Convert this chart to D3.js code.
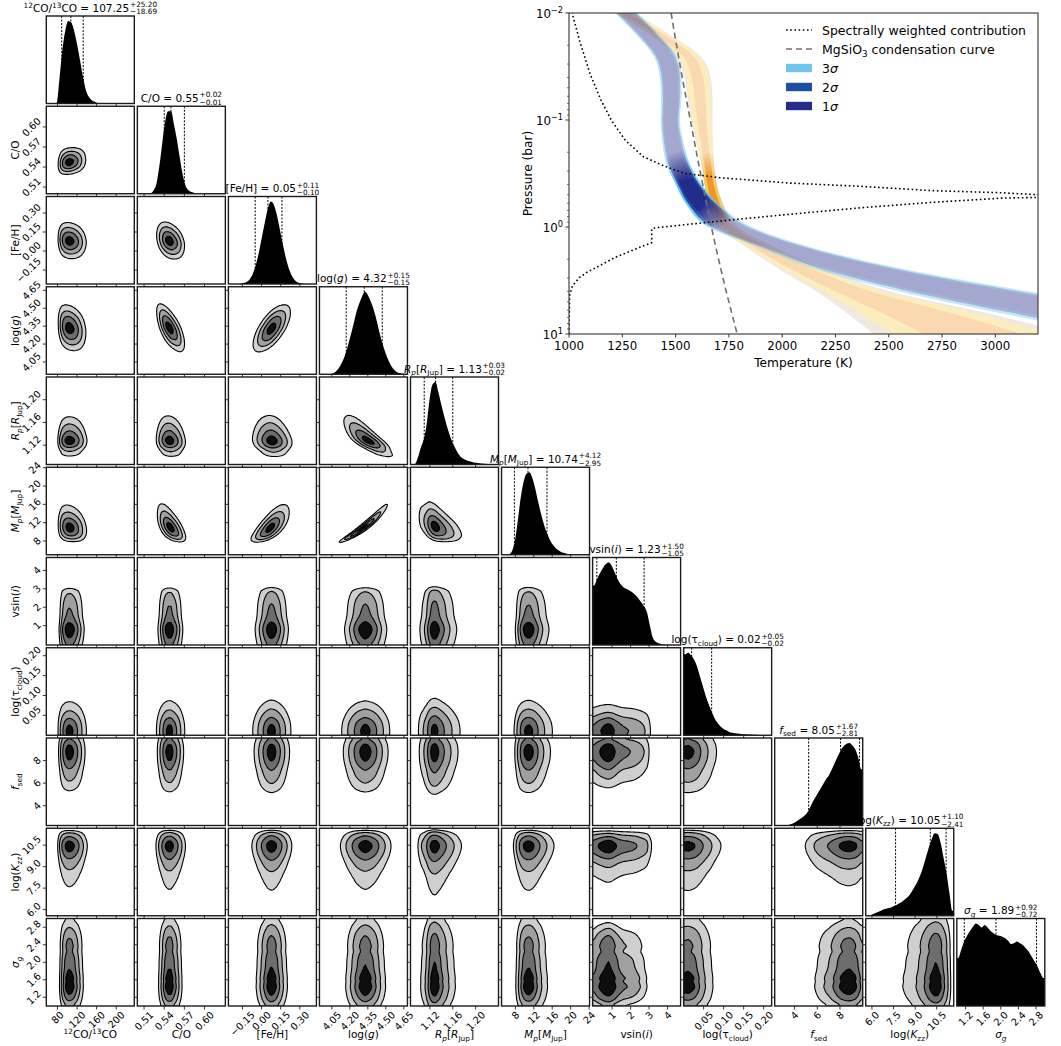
<!DOCTYPE html>
<html>
<head>
<meta charset="utf-8">
<script src="https://cdn.jsdelivr.net/npm/d3@7"></script>
<style>
  body { margin: 0; background: #fff; }
  svg { font-family: "DejaVu Sans", sans-serif; }
</style>
</head>
<body>
<svg id="fig" width="1061" height="1046"></svg>
<script>
// ---------- corner plot data ----------
const paramLabels = [
  [{ t: '12', u: 1 }, { t: 'CO/' }, { t: '13', u: 1 }, { t: 'CO' }],
  [{ t: 'C/O' }],
  [{ t: '[Fe/H]' }],
  [{ t: 'log(' }, { t: 'g', i: 1 }, { t: ')' }],
  [{ t: 'R', i: 1 }, { t: 'p', i: 1, s: 1 }, { t: '[' }, { t: 'R', i: 1 }, { t: 'Jup', s: 1 }, { t: ']' }],
  [{ t: 'M', i: 1 }, { t: 'p', i: 1, s: 1 }, { t: '[' }, { t: 'M', i: 1 }, { t: 'Jup', s: 1 }, { t: ']' }],
  [{ t: 'vsin(' }, { t: 'i', i: 1 }, { t: ')' }],
  [{ t: 'log(τ' }, { t: 'cloud', s: 1 }, { t: ')' }],
  [{ t: 'f', i: 1 }, { t: 'sed', s: 1 }],
  [{ t: 'log(' }, { t: 'K', i: 1 }, { t: 'zz', s: 1 }, { t: ')' }],
  [{ t: 'σ', i: 1 }, { t: 'g', i: 1, s: 1 }],
];

const paramDomains = [
  [57, 237], [0.500, 0.631], [-0.26, 0.43], [3.947, 4.68], [1.086, 1.240],
  [5.0, 24.1], [-0.05, 4.7], [0.0, 0.22], [2.25, 10.0], [5.57, 11.68], [1.0, 3.0],
];

const paramTicks = [
  [80, 120, 160, 200], [0.51, 0.54, 0.57, 0.60], [-0.15, 0.0, 0.15, 0.30],
  [4.05, 4.20, 4.35, 4.50, 4.65], [1.12, 1.16, 1.20], [8, 12, 16, 20, 24],
  [1, 2, 3, 4], [0.05, 0.10, 0.15, 0.20], [4, 6, 8], [6.0, 7.5, 9.0, 10.5],
  [1.2, 1.6, 2.0, 2.4, 2.8],
];
const tickLabels = [
  ['80', '120', '160', '200'], ['0.51', '0.54', '0.57', '0.60'], ['−0.15', '0.00', '0.15', '0.30'],
  ['4.05', '4.20', '4.35', '4.50', '4.65'], ['1.12', '1.16', '1.20'], ['8', '12', '16', '20', '24'],
  ['1', '2', '3', '4'], ['0.05', '0.10', '0.15', '0.20'], ['4', '6', '8'], ['6.0', '7.5', '9.0', '10.5'],
  ['1.2', '1.6', '2.0', '2.4', '2.8'],
];

const medians = [107.25, 0.55, 0.05, 4.32, 1.13, 10.74, 1.23, 0.02, 8.05, 10.05, 1.89];
const errPlus = [25.20, 0.02, 0.11, 0.15, 0.03, 4.12, 1.50, 0.05, 1.67, 1.10, 0.92];
const errMinus = [18.69, 0.01, 0.10, 0.15, 0.02, 2.95, 1.05, 0.02, 2.81, 2.41, 0.72];

// marginal histograms, 30 bins across each domain (relative heights)
const histCO = [0,0,0,0.5,30,65,88,99,97,87,71,52,32,16,8,4,2,0.5,0,0,0,0,0,0,0,0,0,0,0,0];
const histCtoO = [0,0,0,0,0.5,4,12,33,60,86,98,98,82,64,42,22,9,4,2,0.8,0.3,0,0,0,0,0,0,0,0,0];
const histFeH = [0,0,0,0,0.5,1.5,3,7,14,25,40,58,76,92,100,96,84,67,49,33,20,11,5,2,1,0.3,0,0,0,0];
const histLogg = [0,0,0,0.3,1,3,7,13,21,32,45,59,74,85,94,100,96,88,78,65,50,37,26,17,10,5,2.5,1.2,0.5,0.2];
const histRp = [0,0.5,8,20,30,48,78,96,99,87,72,58,45,34,25,18,12,8,6,4.5,3.5,2.5,2,1.5,1.1,0.8,0.5,0.3,0.1,0];
const histMp = [0,0,0.5,4,16,40,68,88,98,100,93,80,64,49,36,26,18,12,8,5,3,2,1,0.5,0.3,0,0,0,0,0];
const histVsini = [72,80,87,93,98,100,96,88,80,74,70,68,66,64,61,57,52,47,40,24,9,4,2,1,0.5,0.2,0,0,0,0];
const histTau = [98,100,97,92,84,72,60,48,38,29,21,15,11,8,6,4,3,2.5,2,1.5,1.2,1,0.8,0.6,0.5,0.4,0.3,0.2,0.1,0];
const histFsed = [0,0,0,0,0.5,1.5,3,5,7.5,10,13,18,25,32,38,44,50,56,61,68,76,84,91,96,99,100,97,92,82,68];
const histKzz = [0,0.5,2,3.5,5,6.5,8,9,10,11.5,13,15,17,20,23,28,34,40,48,58,70,82,92,99,98,88,70,52,28,6];
const histSigma = [58,68,78,85,91,96,100,98,95,98,95,91,88,86,85,84,82,79,75,76,78,76,74,70,66,60,54,48,40,34];
const hists = [histCO, histCtoO, histFeH, histLogg, histRp, histMp, histVsini, histTau, histFsed, histKzz, histSigma];

// correlation of each pair read from the tilt of the blobs: [row, col, rho]
const pairCorr = [
  [1, 0, 0.15], [2, 0, -0.1], [3, 0, -0.2], [5, 0, -0.15],
  [2, 1, -0.3], [3, 1, -0.65], [4, 1, -0.1], [5, 1, -0.6],
  [3, 2, 0.65], [4, 2, -0.15], [5, 2, 0.7],
  [4, 3, -0.8], [5, 3, 0.97],
  [5, 4, -0.45],
];

// ---------- P-T inset data ----------
const lpLevels = [-2, -1.8, -1.6, -1.4, -1.2, -1, -0.8, -0.6, -0.4, -0.2, 0, 0.2, 0.4, 0.6, 0.8, 1];
const blueMed = [1268,1368,1450,1477,1480,1475,1487,1510,1560,1632,1755,2030,2377,2850,3392,3949];
const blue3 = [54,54,54,51,48,45,50,55,60,78,103,125,211,304,382,426];
const blue2 = [45,45,45,43,40,38,42,46,50,66,87,105,177,255,321,358];
const blue1 = [36,36,36,34,32,30,33,36,40,51,68,83,139,201,252,281];
const orangeMed = [1260,1425,1557,1602,1615,1623,1635,1650,1664,1693,1745,1907,2098,2331,2624,2895];
const orange3 = [46,46,58,62,58,50,40,30,29,33,45,67,108,171,324,465];
const orange2 = [39,39,49,53,49,42,34,25,24,28,38,56,88,138,262,375];
const orange1 = [20,20,25,27,25,22,18,16,15,18,24,34,52,82,160,230];

const condLp = [-2, -1.5, -1, -0.5, 0, 0.5, 1];
const condT = [1479, 1522, 1569, 1617, 1668, 1725, 1789];

const contribT = [1010,1016,1050,1099,1149,1198,1264,1347,1446,1545,1710,2040,2370,2700,3030,3300,
                  3300,3030,2700,2370,2040,1710,1413,1388,1388,1347,1215,1083,1050,1016,1003,1000,1000];
const contribLp = [-2.05,-1.99,-1.74,-1.43,-1.19,-1.0,-0.81,-0.66,-0.57,-0.50,-0.46,-0.41,-0.38,-0.34,-0.32,-0.29,
                   -0.28,-0.27,-0.23,-0.18,-0.12,-0.056,0.006,0.016,0.146,0.177,0.286,0.425,0.47,0.55,0.64,0.95,1.05];

const tempTicks = [1000, 1250, 1500, 1750, 2000, 2250, 2500, 2750, 3000];
const pressTicks = [0.01, 0.1, 1, 10];
const pressTickExp = ['−2', '−1', '0', '1'];

const blueCols = ['#6ec6ea', '#1f4fa5', '#232c8a'];
const orangeCols = ['#d8c3ad', '#f6d04a', '#f1952a'];
const legendSigma = ['3', '2', '1'];

// ---------- helpers ----------
const svg = d3.select('#fig');
const defs = svg.append('defs');

function rich(txt, segs, fs) {
  let cur = 0;
  segs.forEach(s => {
    const off = s.u ? -0.38 * fs : s.s ? 0.24 * fs : 0;
    const ts = txt.append('tspan').text(s.t).attr('font-size', (s.u || s.s) ? 0.7 * fs : fs);
    if (s.i) ts.attr('font-style', 'italic');
    if (off !== cur) { ts.attr('dy', off - cur); cur = off; }
  });
}

function invNorm(p) {
  const a = [-3.969683028665376e+01, 2.209460984245205e+02, -2.759285104469687e+02, 1.383577518672690e+02, -3.066479806614716e+01, 2.506628277459239e+00];
  const b = [-5.447609879822406e+01, 1.615858368580409e+02, -1.556989798598866e+02, 6.680131188771972e+01, -1.328068155288572e+01];
  const c = [-7.784894002430293e-03, -3.223964580411365e-01, -2.400758277161838e+00, -2.549732539343734e+00, 4.374664141464968e+00, 2.938163982698783e+00];
  const d = [7.784695709041462e-03, 3.224671290700398e-01, 2.445134137142996e+00, 3.754408661907416e+00];
  const pl = 0.02425;
  if (p < pl) {
    const q = Math.sqrt(-2 * Math.log(p));
    return (((((c[0] * q + c[1]) * q + c[2]) * q + c[3]) * q + c[4]) * q + c[5]) / ((((d[0] * q + d[1]) * q + d[2]) * q + d[3]) * q + 1);
  }
  if (p > 1 - pl) {
    const q = Math.sqrt(-2 * Math.log(1 - p));
    return -(((((c[0] * q + c[1]) * q + c[2]) * q + c[3]) * q + c[4]) * q + c[5]) / ((((d[0] * q + d[1]) * q + d[2]) * q + d[3]) * q + 1);
  }
  const q = p - 0.5, r = q * q;
  return (((((a[0] * r + a[1]) * r + a[2]) * r + a[3]) * r + a[4]) * r + a[5]) * q / (((((b[0] * r + b[1]) * r + b[2]) * r + b[3]) * r + b[4]) * r + 1);
}

// ---------- corner layout ----------
const NP = 11;
const X0 = 46.3, DXc = 91.05, PW = 88;
const Y0 = 16, DYc = 90.25, PH = 87.5;
const colX = j => X0 + j * DXc;
const rowY = i => Y0 + i * DYc;
const FS = 10.5, TFS = 9.8;
const xS = paramDomains.map((d, j) => d3.scaleLinear().domain(d).range([colX(j), colX(j) + PW]));
const yS = paramDomains.map((d, i) => d3.scaleLinear().domain(d).range([rowY(i) + PH, rowY(i)]));

// marginal pdf / normal scores on the contour grid
const NG = 64;
const gridInfo = hists.map((h, p) => {
  const [a, b] = paramDomains[p];
  const nb = h.length;
  const pdf = x => {
    const t = (x - a) / (b - a) * nb - 0.5;
    if (t <= 0) return h[0];
    if (t >= nb - 1) return h[nb - 1];
    const k = Math.floor(t), f = t - k;
    return h[k] * (1 - f) + h[k + 1] * f;
  };
  const SUB = 8, M = NG * SUB;
  const cum = [0];
  let s = 0;
  for (let m = 0; m < M; m++) { s += pdf(a + (m + 0.5) / M * (b - a)); cum.push(s); }
  const f = [], z = [];
  for (let g = 0; g < NG; g++) {
    f.push(pdf(a + (g + 0.5) / NG * (b - a)));
    let F = cum[g * SUB + SUB / 2] / s;
    F = Math.min(1 - 1e-6, Math.max(1e-6, F));
    z.push(invNorm(F));
  }
  return { f, z };
});

const corrOf = (i, j) => {
  const e = pairCorr.find(d => d[0] === i && d[1] === j);
  return e ? e[2] : 0;
};

const massLevels = [0.865, 0.675, 0.393, 0.118];
const fillCols = ['#cfcfcf', '#a0a0a0', '#6d6d6d', '#0e0e0e'];

const panelLayer = svg.append('g');
const titleLayer = svg.append('g');   // titles sit on top of neighbouring panels

function rotLabel(g, txt, cx, cy, mode, pad) {
  const t = g.append('text')
    .attr('font-size', TFS)
    .attr('text-anchor', 'middle')
    .attr('dominant-baseline', 'central')
    .text(txt);
  const L = t.node().getComputedTextLength();
  const half = (L + TFS * 0.75) * 0.7071 / 2;
  const x = mode === 'bottom' ? cx : cx - pad - half;
  const y = mode === 'bottom' ? cy + pad + half : cy;
  t.attr('transform', `translate(${x},${y}) rotate(-45)`);
}

function drawTicks(g, i, j, diag) {
  const bottom = rowY(i) + PH, left = colX(j);
  paramTicks[j].forEach(v => {
    const x = xS[j](v);
    g.append('line').attr('x1', x).attr('x2', x).attr('y1', bottom).attr('y2', bottom + 3.5)
      .attr('stroke', '#222').attr('stroke-width', 0.9);
  });
  if (!diag) {
    paramTicks[i].forEach(v => {
      const y = yS[i](v);
      g.append('line').attr('x1', left).attr('x2', left - 3.5).attr('y1', y).attr('y2', y)
        .attr('stroke', '#222').attr('stroke-width', 0.9);
    });
  }
  if (i === NP - 1) {
    paramTicks[j].forEach((v, k) => rotLabel(g, tickLabels[j][k], xS[j](v), bottom, 'bottom', 4.5));
    const lab = g.append('text').attr('x', colX(j) + PW / 2).attr('y', 1038)
      .attr('text-anchor', 'middle').attr('font-size', FS);
    rich(lab, paramLabels[j], FS);
  }
  if (j === 0 && i > 0) {
    paramTicks[i].forEach((v, k) => rotLabel(g, tickLabels[i][k], left, yS[i](v), 'left', 4.5));
    const cy = rowY(i) + PH / 2;
    const lab = g.append('text').attr('transform', `translate(19,${cy}) rotate(-90)`)
      .attr('text-anchor', 'middle').attr('font-size', FS);
    rich(lab, paramLabels[i], FS);
  }
}

// ---------- diagonal: histograms + titles ----------
for (let k = 0; k < NP; k++) {
  const x0 = colX(k), y0 = rowY(k);
  const [a, b] = paramDomains[k];
  const h = hists[k];
  const nb = h.length;
  const g = panelLayer.append('g');
  g.append('rect').attr('x', x0).attr('y', y0).attr('width', PW).attr('height', PH).attr('fill', '#fff');

  const yh = d3.scaleLinear().domain([0, d3.max(h) * 1.06]).range([y0 + PH, y0]);
  const pts = [[a, h[0]]].concat(h.map((v, m) => [a + (m + 0.5) / nb * (b - a), v])).concat([[b, h[nb - 1]]]);
  g.append('path')
    .attr('d', d3.area().x(d => xS[k](d[0])).y0(y0 + PH).y1(d => yh(d[1])).curve(d3.curveMonotoneX)(pts))
    .attr('fill', '#000');

  [medians[k] - errMinus[k], medians[k], medians[k] + errPlus[k]].forEach(q => {
    const x = xS[k](q);
    if (x < x0 || x > x0 + PW) return;
    g.append('line').attr('x1', x).attr('x2', x).attr('y1', y0).attr('y2', y0 + PH)
      .attr('stroke', '#000').attr('stroke-width', 1).attr('stroke-dasharray', '2,1.5');
  });
  g.append('rect').attr('x', x0).attr('y', y0).attr('width', PW).attr('height', PH)
    .attr('fill', 'none').attr('stroke', '#1c1c1c').attr('stroke-width', 1.4);
  drawTicks(g, k, k, true);

  // title
  const tg = titleLayer.append('g');
  const main = tg.append('text').attr('font-size', FS).attr('x', 0).attr('y', 0);
  rich(main, paramLabels[k].concat([{ t: ' = ' + medians[k].toFixed(2) }]), FS);
  const w = main.node().getComputedTextLength();
  const sup = tg.append('text').attr('font-size', 7.3).attr('x', w + 0.8).attr('y', -4.4).text('+' + errPlus[k].toFixed(2));
  const sub = tg.append('text').attr('font-size', 7.3).attr('x', w + 0.8).attr('y', 2.8).text('−' + errMinus[k].toFixed(2));
  const tw = w + 0.8 + Math.max(sup.node().getComputedTextLength(), sub.node().getComputedTextLength());
  tg.attr('transform', `translate(${x0 + PW / 2 - tw / 2},${y0 - 4.5})`);
}

// ---------- off-diagonal: 2D contours ----------
for (let i = 1; i < NP; i++) {
  for (let j = 0; j < i; j++) {
    const x0 = colX(j), y0 = rowY(i);
    const g = panelLayer.append('g');
    g.append('rect').attr('x', x0).attr('y', y0).attr('width', PW).attr('height', PH).attr('fill', '#fff');
    const cid = `clip-${i}-${j}`;
    defs.append('clipPath').attr('id', cid).append('rect')
      .attr('x', x0).attr('y', y0).attr('width', PW).attr('height', PH);

    const ax = gridInfo[j], ay = gridInfo[i];
    const rho = corrOf(i, j);
    const r2 = rho * rho;
    const values = new Array(NG * NG);
    for (let gy = 0; gy < NG; gy++) {
      const yi = NG - 1 - gy;
      for (let gx = 0; gx < NG; gx++) {
        let v = ax.f[gx] * ay.f[yi];
        if (rho !== 0) {
          const zx = ax.z[gx], zy = ay.z[yi];
          v *= Math.exp(-(r2 * (zx * zx + zy * zy) - 2 * rho * zx * zy) / (2 * (1 - r2))) / Math.sqrt(1 - r2);
        }
        values[gx + gy * NG] = v;
      }
    }
    const sorted = values.slice().sort((p, q) => q - p);
    const total = d3.sum(sorted);
    const thr = massLevels.map(m => {
      let c = 0;
      for (let n = 0; n < sorted.length; n++) {
        c += sorted[n];
        if (c / total >= m) return sorted[n];
      }
      return sorted[sorted.length - 1];
    });
    const cont = d3.contours().size([NG, NG]).thresholds(thr)(values);
    const proj = d3.geoTransform({
      point: function (x, y) { this.stream.point(x0 + x / NG * PW, y0 + y / NG * PH); },
    });
    const path = d3.geoPath(proj);
    const cg = g.append('g').attr('clip-path', `url(#${cid})`);
    cont.forEach((c, n) => {
      cg.append('path').attr('d', path(c)).attr('fill', fillCols[n])
        .attr('stroke', '#000').attr('stroke-width', 1.1).attr('stroke-linejoin', 'round');
    });
    g.append('rect').attr('x', x0).attr('y', y0).attr('width', PW).attr('height', PH)
      .attr('fill', 'none').attr('stroke', '#1c1c1c').attr('stroke-width', 1.4);
    drawTicks(g, i, j, false);
  }
}

// ---------- P-T inset ----------
const IL = 569, IR = 1038, IT = 13, IB = 334;
const xT = d3.scaleLinear().domain([1000, 3200]).range([IL, IR]);
const yP = d3.scaleLog().domain([0.01, 10]).range([IT, IB]);
const inset = svg.append('g');

defs.append('clipPath').attr('id', 'clip-inset').append('rect')
  .attr('x', IL).attr('y', IT).attr('width', IR - IL).attr('height', IB - IT);

function addFade(id, cx, cy, r, outer) {
  const rg = defs.append('radialGradient').attr('id', id + '-grad')
    .attr('gradientUnits', 'userSpaceOnUse').attr('cx', cx).attr('cy', cy).attr('r', r);
  rg.append('stop').attr('offset', 0).attr('stop-color', '#fff');
  rg.append('stop').attr('offset', 0.35).attr('stop-color', '#fff');
  rg.append('stop').attr('offset', 1).attr('stop-color', outer);
  defs.append('mask').attr('id', id).attr('maskUnits', 'userSpaceOnUse')
    .attr('x', IL).attr('y', IT).attr('width', IR - IL).attr('height', IB - IT)
    .append('rect').attr('x', IL).attr('y', IT).attr('width', IR - IL).attr('height', IB - IT)
    .attr('fill', `url(#${id}-grad)`);
}
addFade('fade-orange', xT(1665), yP(Math.pow(10, -0.35)), 38, '#5e5e5e');
addFade('fade-blue', xT(1570), yP(Math.pow(10, -0.3)), 46, '#6a6a6a');

const bandArea = d3.area()
  .y(d => yP(Math.pow(10, d.lp)))
  .x0(d => xT(d.t - d.w))
  .x1(d => xT(d.t + d.w))
  .curve(d3.curveMonotoneY);

function drawBands(med, widths, cols, maskId) {
  const outer = inset.append('g').attr('clip-path', 'url(#clip-inset)');
  const g = outer.append('g').attr('mask', `url(#${maskId})`);
  widths.forEach((w, n) => {
    const rows = lpLevels.map((lp, m) => ({ lp, t: med[m], w: w[m] }));
    g.append('path').attr('d', bandArea(rows)).attr('fill', cols[n]);
  });
}
drawBands(orangeMed, [orange3, orange2, orange1], orangeCols, 'fade-orange');
drawBands(blueMed, [blue3, blue2, blue1], blueCols, 'fade-blue');

const lineClip = inset.append('g').attr('clip-path', 'url(#clip-inset)');
lineClip.append('path')
  .attr('d', d3.line().x((d, m) => xT(condT[m])).y(d => yP(Math.pow(10, d))).curve(d3.curveMonotoneY)(condLp))
  .attr('fill', 'none').attr('stroke', '#707070').attr('stroke-width', 1.6).attr('stroke-dasharray', '6,4');
lineClip.append('path')
  .attr('d', d3.line().x((d, m) => xT(contribT[m])).y(d => yP(Math.pow(10, d)))(contribLp))
  .attr('fill', 'none').attr('stroke', '#000').attr('stroke-width', 1.6).attr('stroke-dasharray', '1.6,2.6');

inset.append('rect').attr('x', IL).attr('y', IT).attr('width', IR - IL).attr('height', IB - IT)
  .attr('fill', 'none').attr('stroke', '#333').attr('stroke-width', 1.1);

// x axis
tempTicks.forEach(v => {
  inset.append('line').attr('x1', xT(v)).attr('x2', xT(v)).attr('y1', IB).attr('y2', IB + 3.5)
    .attr('stroke', '#333').attr('stroke-width', 1);
  inset.append('text').attr('x', xT(v)).attr('y', IB + 15.5).attr('text-anchor', 'middle')
    .attr('font-size', 11.8).text(v);
});
inset.append('text').attr('x', (IL + IR) / 2).attr('y', 367).attr('text-anchor', 'middle')
  .attr('font-size', 12.2).text('Temperature (K)');

// y axis (log)
pressTicks.forEach((v, k) => {
  inset.append('line').attr('x1', IL).attr('x2', IL - 3.5).attr('y1', yP(v)).attr('y2', yP(v))
    .attr('stroke', '#333').attr('stroke-width', 1);
  const t = inset.append('text').attr('x', IL - 6).attr('y', yP(v) + 4.5)
    .attr('text-anchor', 'end').attr('font-size', 11.8);
  t.append('tspan').text('10');
  t.append('tspan').attr('dy', -5).attr('font-size', 8.2).text(pressTickExp[k]);
});
pressTicks.slice(0, 3).forEach(dec => {
  d3.range(2, 10).forEach(m => {
    const y = yP(dec * m);
    inset.append('line').attr('x1', IL).attr('x2', IL - 2).attr('y1', y).attr('y2', y)
      .attr('stroke', '#333').attr('stroke-width', 0.7);
  });
});
inset.append('text').attr('transform', `translate(532,${(IT + IB) / 2}) rotate(-90)`)
  .attr('text-anchor', 'middle').attr('font-size', 12.2).text('Pressure (bar)');

// legend
const legX = 786, legW = 26, legTx = 822, LFS = 12.5;
const legY = [30, 49, 68, 87, 106];
inset.append('line').attr('x1', legX).attr('x2', legX + legW).attr('y1', legY[0]).attr('y2', legY[0])
  .attr('stroke', '#000').attr('stroke-width', 1.6).attr('stroke-dasharray', '1.6,2.6');
inset.append('text').attr('x', legTx).attr('y', legY[0] + 4.5).attr('font-size', LFS)
  .text('Spectrally weighted contribution');
inset.append('line').attr('x1', legX).attr('x2', legX + legW).attr('y1', legY[1]).attr('y2', legY[1])
  .attr('stroke', '#707070').attr('stroke-width', 1.6).attr('stroke-dasharray', '6,4');
const mg = inset.append('text').attr('x', legTx).attr('y', legY[1] + 4.5).attr('font-size', LFS);
mg.append('tspan').text('MgSiO');
mg.append('tspan').attr('dy', 3).attr('font-size', 8.8).text('3');
mg.append('tspan').attr('dy', -3).text(' condensation curve');
legendSigma.forEach((s, k) => {
  const y = legY[2 + k];
  inset.append('rect').attr('x', legX).attr('y', y - 4.2).attr('width', legW).attr('height', 8.4)
    .attr('fill', blueCols[k]);
  const t = inset.append('text').attr('x', legTx).attr('y', y + 4.5).attr('font-size', LFS);
  t.append('tspan').text(s);
  t.append('tspan').attr('font-style', 'italic').text('σ');
});
</script>
</body>
</html>
